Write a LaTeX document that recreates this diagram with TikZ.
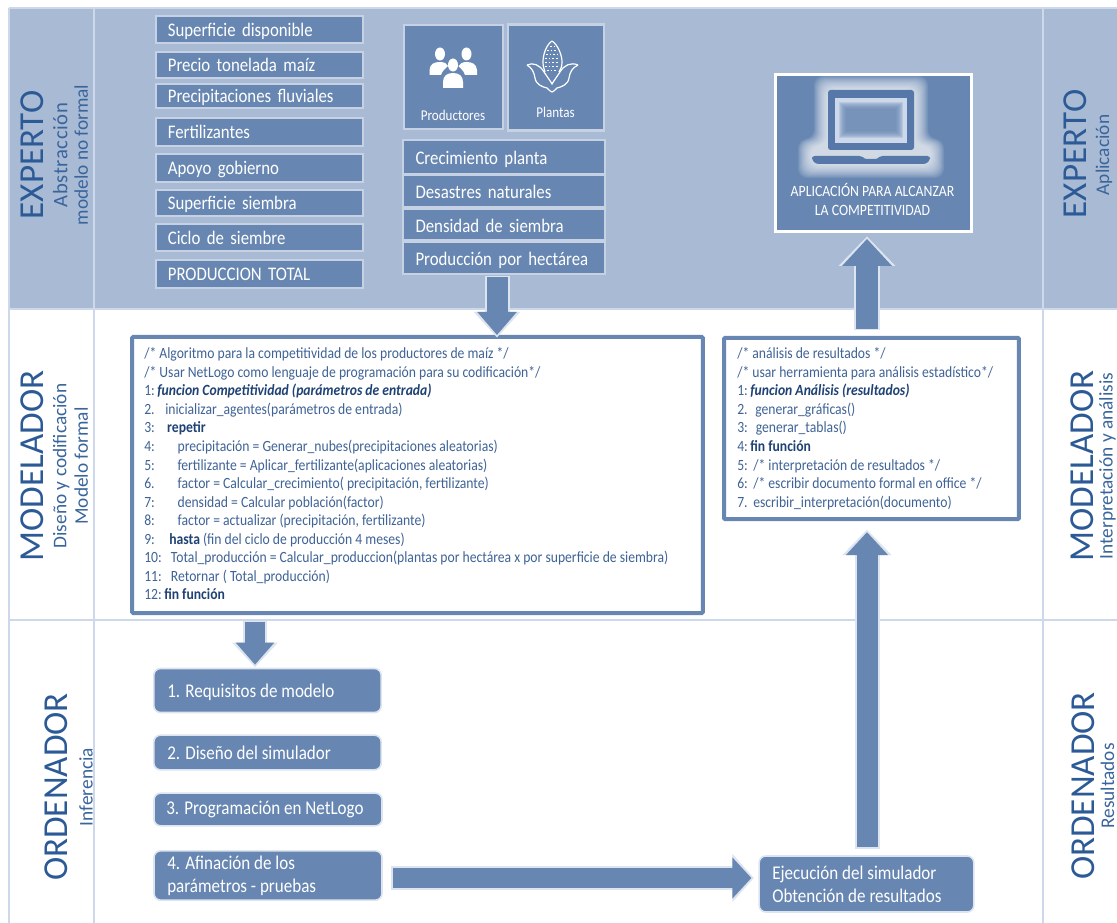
\documentclass[tikz,border=0pt]{standalone}
\usepackage{fontspec}
\setmainfont{Carlito}
\newfontfamily\narrowf[FakeStretch=0.875]{Carlito}
\usetikzlibrary{arrows.meta,calc}
\definecolor{panel}{HTML}{A9BBD4}
\definecolor{gridline}{HTML}{CDD8EA}
\definecolor{boxfill}{HTML}{6787B2}
\definecolor{boxedge}{HTML}{C6D2E3}
\definecolor{glowc}{HTML}{DCE4EF}
\definecolor{labelc}{HTML}{2C5A96}
\definecolor{subc}{HTML}{3A659C}
\definecolor{codec}{HTML}{3F6396}
\definecolor{boldc}{HTML}{1F4274}
\definecolor{darkblue}{HTML}{5578A8}
\newcommand{\fsz}[1]{\fontsize{#1}{#1}\selectfont}
\newcommand{\nfs}[2]{\narrowf\fontsize{#1}{#2}\selectfont}
\newcommand{\nm}[2]{\makebox[#1pt][l]{#2}}
% block arrow: from, to, shorten start, shorten end (px), shaft, head length, head width (px)
\newcommand{\blockarrow}[7]{%
  \pgfmathsetlengthmacro{\gls}{(#3-1.5)*0.75pt}%
  \pgfmathsetlengthmacro{\gle}{(#4-2.5)*0.75pt}%
  \pgfmathsetlengthmacro{\mns}{#3*0.75pt}%
  \pgfmathsetlengthmacro{\mne}{#4*0.75pt}%
  \pgfmathsetlengthmacro{\shw}{#5*0.75pt}%
  \pgfmathsetlengthmacro{\shg}{(#5+4)*0.75pt}%
  \pgfmathsetlengthmacro{\hl}{#6*0.75pt}%
  \pgfmathsetlengthmacro{\hg}{(#6+2.5)*0.75pt}%
  \pgfmathsetlengthmacro{\hw}{#7*0.75pt}%
  \pgfmathsetlengthmacro{\hwg}{(#7+7)*0.75pt}%
  \draw[glowc,line width=\shg,shorten <=\gls,shorten >=\gle,-{Triangle[length=\hg,width=\hwg]}] (#1) -- (#2);
  \draw[boxfill,line width=\shw,shorten <=\mns,shorten >=\mne,-{Triangle[length=\hl,width=\hw]}] (#1) -- (#2);
}
\tikzset{
  x=0.75pt,y=-0.75pt,
  flatbox/.style={draw=boxedge,fill=boxfill,line width=1.6pt,inner sep=0pt,text=white,
     font=\nfs{14.4pt}{16pt},text height=11.5pt,text depth=1.2pt},
  listbox/.style={flatbox,minimum width=151.5pt,text width=132.7pt,align=left,text height=12.8pt},
  sqbox/.style={draw=boxedge,fill=boxfill,line width=1.6pt,inner sep=0pt},
  smalltext/.style={text=white,font=\nfs{11.2pt}{12pt},inner sep=0pt},
  stepbox/.style={draw=glowc,fill=boxfill,line width=1.2pt,rounded corners=5pt,inner sep=0pt},
  steptext/.style={text=white,font=\nfs{14.6pt}{17.25pt},anchor=west,align=left,inner sep=0pt},
  codebox/.style={draw=boxfill,fill=white,line width=3pt,rounded corners=0.8pt},
  codetext/.style={inner sep=0pt,anchor=north west,align=left,text=codec,font=\nfs{11.7pt}{13.9pt}},
  mainlabel/.style={rotate=90,text=labelc,font=\fsz{26.3pt},inner sep=0pt},
  sublabel/.style={rotate=90,text=subc,font=\fsz{14.5pt},inner sep=0pt,align=center},
  gridrule/.style={draw=gridline,line width=1.9pt},
}
\begin{document}
\begin{tikzpicture}
\useasboundingbox (0,0) rectangle (1117,923);
% lanes
\fill[panel] (9,8) rectangle (1117,309);
\path[gridrule] (9,8) -- (1117,8);
\path[gridrule] (9,8) -- (9,923);
\path[gridrule] (94,8) -- (94,923);
\path[gridrule] (1043,8) -- (1043,923);
\path[gridrule] (9,309) -- (1117,309);
\path[gridrule] (9,620) -- (1117,620);
% lane labels
\node[mainlabel] (expL) at (32,155) {EXPERTO};
\node[sublabel] (expLs) at (70.5,155) {{\addfontfeature{LetterSpace=3}\fontsize{15.5pt}{15.5pt}\selectfont Abstracción}\\[1pt]modelo no formal};
\node[mainlabel] (modL) at (32,466) {MODELADOR};
\node[sublabel] (modLs) at (70.5,466) {Diseño y codificación\\[1.5pt]Modelo formal};
\node[mainlabel] (ordL) at (56,787) {ORDENADOR};
\node[sublabel] (ordLs) at (86,787) {Inferencia};
\node[mainlabel] (expR) at (1075,154) {EXPERTO};
\node[sublabel] (expRs) at (1104,155) {Aplicación};
\node[mainlabel] (modR) at (1082,466) {MODELADOR};
\node[sublabel] (modRs) at (1107.5,466) {Interpretación y análisis};
\node[mainlabel] (ordR) at (1083,786) {ORDENADOR};
\node[sublabel] (ordRs) at (1107.5,786) {Resultados};
% left list
\foreach \nid/\ya/\yb/\txt in {v1/16/43/Superficie disponible,v2/52/78/Precio tonelada maíz,v3/84/108/Precipitaciones fluviales,v4/118/146/Fertilizantes,v5/154/182/Apoyo gobierno,v6/190/216/Superficie siembra,v7/224/251/Ciclo de siembre,v8/260/288/PRODUCCION TOTAL}{
  \pgfmathsetlengthmacro{\hh}{(\yb-\ya)*0.75pt}
  \node[flatbox,minimum width=155.5pt,minimum height=\hh,text width=137.5pt,align=left] (\nid) at (259.5,{(\ya+\yb)/2}) {\txt};
}
% actors
\node[sqbox,minimum width=74.5pt,minimum height=78.5pt] (prod) at (453.5,77) {};
\node[smalltext] (prodt) at (453,115) {Productores};
\node[sqbox,minimum width=72.5pt,minimum height=79.5pt] (plan) at (556,77.5) {};
\node[smalltext] (plant) at (555.5,112.5) {Plantas};
% people icon
\begin{scope}[white]
  \fill (440,54) ellipse (5 and 6.5);
  \fill (466.5,54) ellipse (5 and 6.5);
  \fill (429.5,75) -- (429.5,70) .. controls (430,64) and (434,62) .. (440,62) .. controls (445,62) and (447,64) .. (448,66) .. controls (445,69) and (442,71) .. (441,75) -- cycle;
  \fill (477,75) -- (477,70) .. controls (476.5,64) and (472,62) .. (466.5,62) .. controls (462,62) and (460,64) .. (458.5,66) .. controls (461,69) and (464,71) .. (465,75) -- cycle;
  \fill (453,65) ellipse (5 and 6.5);
  \fill (443,88) -- (443,82) .. controls (443,76) and (447,73) .. (453,73) .. controls (459,73) and (463,76) .. (463,82) -- (463,88) -- cycle;
\end{scope}
% corn icon
\begin{scope}[white,line width=0.9pt]
  \draw (552,41) .. controls (546,45) and (543,55) .. (543,62) .. controls (543,66) and (544,69) .. (545,72);
  \draw (552,41) .. controls (558,45) and (562,55) .. (562,62) .. controls (562,66) and (561,69) .. (559,72);
  \draw (527,65) .. controls (533,62) and (540,65) .. (544,72) .. controls (548,78) and (551,82) .. (552,84) .. controls (553,82) and (556,78) .. (560,72) .. controls (564,65) and (571,62) .. (578,65);
  \draw (527,65) .. controls (532,68) and (534,72) .. (535,78) .. controls (536,85) and (543,87) .. (547,88) .. controls (549,90) and (551,92) .. (552,92) .. controls (553,92) and (555,90) .. (557,88) .. controls (561,87) and (568,85) .. (569,78) .. controls (570,72) and (572,68) .. (578,65);
  \foreach \yy/\hw in {46/2,50/5,54/6,58/7,62/7,66/7,70/5}{
    \draw[line width=0.6pt,dash pattern=on 1.2pt off 1.6pt] ({552-\hw},\yy) -- ({552+\hw},\yy);
  }
\end{scope}
% factors
\node[listbox,minimum height=25.5pt] (f1) at (504,157) {Crecimiento planta};
\node[listbox,minimum height=24pt] (f2) at (504,191) {Desastres naturales};
\node[listbox,minimum height=24pt] (f3) at (504,224.5) {Densidad de siembra};
\node[listbox,minimum height=24pt] (f4) at (504,258) {Producción por hectárea};
% application
\node[draw=white,fill=boxfill,line width=1.8pt,minimum width=147pt,minimum height=118pt,inner sep=0pt] (app) at (873.5,153) {};
\foreach \gr in {1,2,...,14}{
  \fill[white,opacity=0.085,rounded corners=7pt] ({828-\gr},{90-\gr}) -- ({914+\gr},{90-\gr}) -- ({914+\gr},{146-0.5*\gr}) -- ({930+\gr},{146-0.5*\gr}) -- ({930+\gr},{164+\gr}) -- ({812-\gr},{164+\gr}) -- ({812-\gr},{146-0.5*\gr}) -- ({828-\gr},{146-0.5*\gr}) -- cycle;
}
\fill[darkblue,rounded corners=2pt] (828,90) rectangle (914,150);
\fill[gridline] (835,98) rectangle (907,143);
\foreach \gr in {7,6,...,0}{
  \fill[boxfill,opacity=0.2] ({846-\gr},{109-\gr}) rectangle ({896+\gr},{131+\gr});
}
\fill[darkblue,rounded corners=2pt] (812,156) -- (862,156) -- (864,159) -- (878,159) -- (880,156) -- (930,156) -- (930,160) -- (926,164) -- (816,164) -- (812,160) -- cycle;
\node[text=white,font=\nfs{11.8pt}{13.6pt},align=center,inner sep=0pt] (appt) at (872.5,199.5) {APLICACIÓN PARA ALCANZAR\\LA COMPETITIVIDAD};
% code boxes
\node[codebox,minimum width=428pt,minimum height=207pt,inner sep=0pt] (code1) at (417.5,475) {};
\node[codetext] (code1t) at (144,347.5) {/* Algoritmo para la competitividad de los productores de maíz */\\
/* Usar NetLogo como lenguaje de programación para su codificación*/\\
\nm{9.8}{1:}{\color{boldc}\bfseries\itshape funcion Competitividad (parámetros de entrada)}\\
\nm{15.8}{2.}inicializar\_agentes(parámetros de entrada)\\
\nm{17.2}{3:}{\color{boldc}\bfseries repetir}\\
\nm{25}{4:}precipitación = Generar\_nubes(precipitaciones aleatorias)\\
\nm{25}{5:}fertilizante = Aplicar\_fertilizante(aplicaciones aleatorias)\\
\nm{25}{6.}factor = Calcular\_crecimiento( precipitación, fertilizante)\\
\nm{25}{7:}densidad = Calcular población(factor)\\
\nm{25}{8:}factor = actualizar (precipitación, fertilizante)\\
\nm{18.8}{9:}{\color{boldc}\bfseries hasta} (fin del ciclo de producción 4 meses)\\
\nm{20}{10:}Total\_producción = Calcular\_produccion(plantas por hectárea x por superficie de siembra)\\
\nm{20}{11:}Retornar ( Total\_producción)\\
\nm{15}{12:}{\color{boldc}\bfseries fin función}};
\node[codebox,minimum width=221pt,minimum height=136pt,inner sep=0pt] (code2) at (871.5,428.5) {};
\node[codetext] (code2t) at (737,347.5) {/* análisis de resultados */\\
/* usar herramienta para análisis estadístico*/\\
\nm{9.8}{1:}{\color{boldc}\bfseries\itshape funcion Análisis (resultados)}\\
\nm{13.5}{2.}generar\_gráficas()\\
\nm{13.9}{3:}generar\_tablas()\\
\nm{9.8}{4:}{\color{boldc}\bfseries fin función}\\
\nm{12}{5:}/* interpretación de resultados */\\
\nm{12}{6:}/* escribir documento formal en office */\\
\nm{12}{7.}escribir\_interpretación(documento)};
% steps
\node[stepbox,minimum width=170.5pt,minimum height=33pt] (s1) at (267.5,690.5) {};
\node[steptext] (s1t) at (167,692) {1. Requisitos de modelo};
\node[stepbox,minimum width=170.5pt,minimum height=26pt] (s2) at (267.5,752.5) {};
\node[steptext] (s2t) at (167,753) {2. Diseño del simulador};
\node[stepbox,minimum width=171pt,minimum height=24.5pt] (s3) at (268,809.5) {};
\node[steptext] (s3t) at (166,809.5) {3. Programación en NetLogo};
\node[stepbox,minimum width=171pt,minimum height=37pt] (s4) at (268,875.5) {};
\node[steptext] (s4t) at (167,875.5) {4. Afinación de los\\parámetros - pruebas};
\node[stepbox,minimum width=161pt,minimum height=42pt] (exe) at (866.5,884) {};
\node[steptext] (exet) at (772,884) {Ejecución del simulador\\Obtención de resultados};
% block arrows
\coordinate (a1) at (497,300);
\coordinate (a2) at (255,640);
\coordinate (a3) at (867,300);
\coordinate (a4) at (500,878);
\blockarrow{f4.south -| a1}{code1.north -| a1}{2}{0}{21}{23}{38}
\blockarrow{s4.east |- a4}{exe.west |- a4}{10}{7}{20}{19}{40}
\blockarrow{code1.south -| a2}{s1.north -| a2}{7}{3}{20}{22}{37}
\blockarrow{exe.north -| a3}{code2.south -| a3}{8}{11}{21}{23}{41}
\blockarrow{code2.north -| a3}{app.south -| a3}{7}{6}{22}{27}{48}
\end{tikzpicture}
\end{document}
